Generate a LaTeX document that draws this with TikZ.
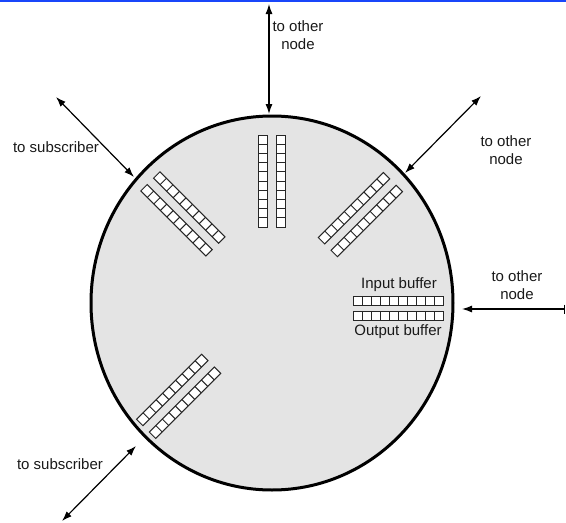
\documentclass[tikz,border=0pt]{standalone}
\usepackage{fontspec}
\setmainfont{Liberation Sans}
\usetikzlibrary{arrows.meta,shapes.geometric}
\definecolor{ringfill}{RGB}{228,228,228}
\definecolor{topblue}{RGB}{25,70,250}
\begin{document}
\begin{tikzpicture}[x=1pt,y=-1pt,
  lbl/.style={font=\fontsize{15}{18.5}\selectfont, align=center, inner sep=0pt, text=black!90},
  link/.style={line width=1.2pt, {Latex[length=10pt,width=7pt]}-{Latex[length=10pt,width=7pt]}},
  cell/.style={line width=1pt, draw=black!85, fill=white},
  celldiv/.style={line width=1pt, draw=black!85}]
\useasboundingbox (0,0) rectangle (566,523);
\fill[topblue] (0,0) rectangle (566,2);
% ring
\node[ellipse, draw, line width=3pt, fill=ringfill, minimum width=362pt, minimum height=374pt, inner sep=0pt] (ring) at (272,303) {};
% buffer pairs
\foreach \ang/\r in {90/76, 45/79, 135/80, 225/86} {
  \begin{scope}[shift={(272,303)}, rotate=\ang]
    \foreach \off in {-9,9} {
      \draw[cell] (\r,\off-4.5) rectangle (\r+92,\off+4.5);
      \foreach \i in {1,...,9} \draw[celldiv] (\r+9.2*\i,\off-4.5) -- (\r+9.2*\i,\off+4.5);
    }
  \end{scope}
}
\foreach \yc in {301,316} {
  \draw[cell] (353,\yc-4.2) rectangle (443,\yc+4.2);
  \foreach \i in {1,...,9} \draw[celldiv] (353+9*\i,\yc-4.2) -- (353+9*\i,\yc+4.2);
}
\node[lbl] (inb) at (399,285) {Input buffer};
\node[lbl] (outb) at (398,332) {Output buffer};
% arrow end points
\coordinate (a1) at (269,4);   \coordinate (a2) at (269,114);
\coordinate (b1) at (481,96);  \coordinate (b2) at (405,173);
\coordinate (c1) at (565,309); \coordinate (c2) at (462,309);
\coordinate (d1) at (56,97);   \coordinate (d2) at (134,177);
\coordinate (e1) at (136,446); \coordinate (e2) at (62,521);
\draw[link] (a1) -- (a2);
\draw[link] (b1) -- (b2);
\draw[line width=1.2pt, {Bar[width=9pt]}-{Latex[length=10pt,width=7pt]}] (c1) -- (c2);
\draw[link] (d1) -- (d2);
\draw[link] (e1) -- (e2);
% labels
\node[lbl] (la) at (298,35) {to other\\node};
\node[lbl] (lb) at (506,150) {to other\\node};
\node[lbl] (lc) at (517,285) {to other\\node};
\node[lbl] (ld) at (56,147) {to subscriber};
\node[lbl] (le) at (60,464) {to subscriber};
\end{tikzpicture}
\end{document}
